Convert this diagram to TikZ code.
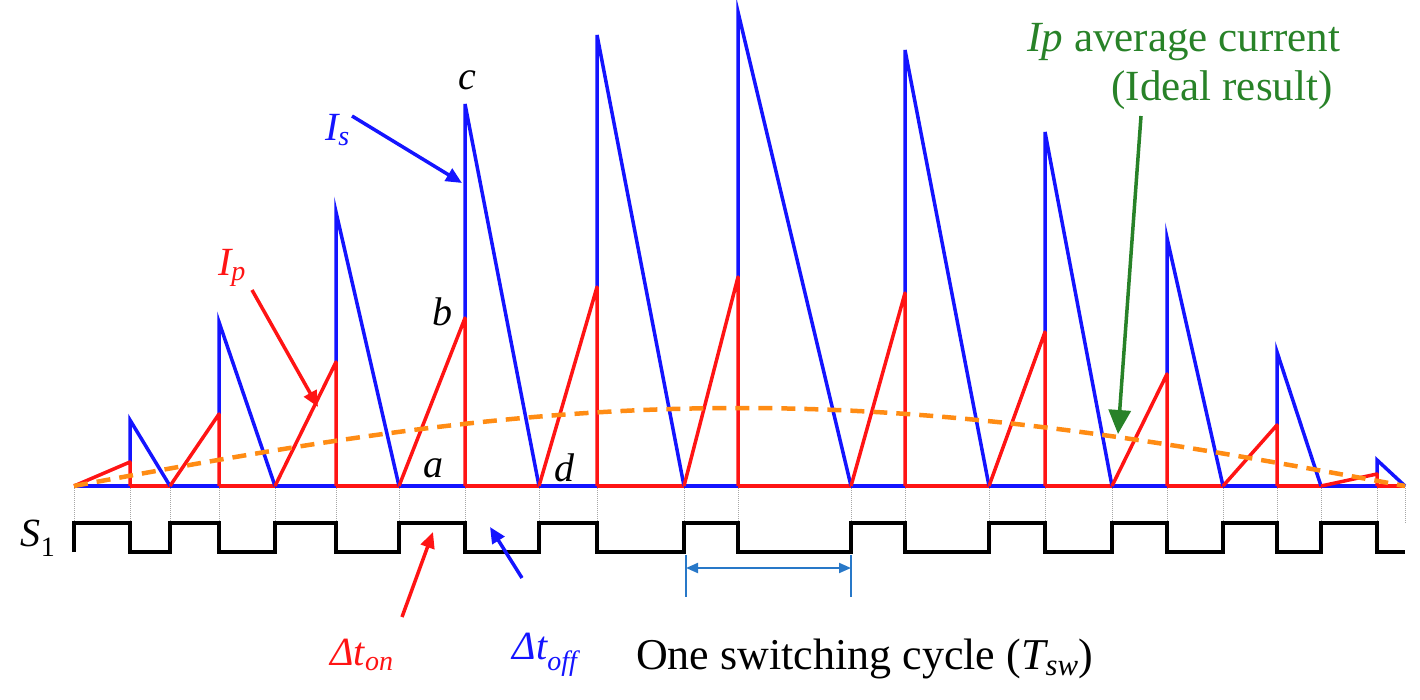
\documentclass[tikz,border=0pt]{standalone}
\usepackage{fontspec}
\setmainfont{Liberation Serif}
\usetikzlibrary{arrows.meta}
\definecolor{ipred}{RGB}{255,20,20}
\definecolor{isblue}{RGB}{20,20,255}
\definecolor{avgor}{RGB}{255,140,20}
\definecolor{grn}{RGB}{40,130,40}
\definecolor{cyc}{RGB}{40,120,200}
\tikzset{
  ipline/.style={ipred,line width=3.5pt},
  isline/.style={isblue,line width=3.5pt},
  guide/.style={gray!70,densely dotted,line width=1pt},
  sw/.style={black,line width=3.5pt,line join=miter},
  lbl/.style={font=\fontsize{40}{40}\selectfont\itshape,inner sep=0pt},
  ptr/.style={line width=3.5pt,-{Triangle[length=16pt,width=14pt]}},
}
\begin{document}
\begin{tikzpicture}[x=1pt,y=-1pt]
\useasboundingbox (0,0) rectangle (1420,700);
% cycles: on-start, on-end, off-end, Ip peak, Is peak
\foreach \a/\b/\c/\p/\s in {74/130/170/462/420,170/219/275/414/322,275/336/399/362/212,399/465/539/318/104,539/597/684/287/35,684/738/851/277/12,851/905/989/293/50,989/1045/1112/332/132,1112/1167/1223/374/238,1223/1277/1321/425/352,1321/1377/1405/474/460}{
  \coordinate (A) at (\a,486); \coordinate (B) at (\b,486); \coordinate (C) at (\c,486);
  \coordinate (P) at (\b,\p); \coordinate (S) at (\b,\s);
  \draw[guide] (\a,486) -- (\a,523);
  \draw[guide] (\b,486) -- (\b,552);
  \draw[guide] (\c,486) -- (\c,523);
  \draw[isline] (A) -- (B);
  \draw[ipline] (B) -- (C);
  \draw[isline] (P) -- (S) -- (C);
  \draw[ipline,line join=round] (A) -- (P) -- (B);
}
% S1 waveform
\draw[sw] (74,552) -- (74,523) -- (130,523) -- (130,552) -- (170,552) -- (170,523) -- (219,523) -- (219,552) -- (275,552) -- (275,523) -- (336,523) -- (336,552) -- (399,552) -- (399,523) -- (465,523) -- (465,552) -- (539,552) -- (539,523) -- (597,523) -- (597,552) -- (684,552) -- (684,523) -- (738,523) -- (738,552) -- (851,552) -- (851,523) -- (905,523) -- (905,552) -- (989,552) -- (989,523) -- (1045,523) -- (1045,552) -- (1112,552) -- (1112,523) -- (1167,523) -- (1167,552) -- (1223,552) -- (1223,523) -- (1277,523) -- (1277,552) -- (1321,552) -- (1321,523) -- (1377,523) -- (1377,552) -- (1405,552);
% average current
\draw[avgor,line width=4.5pt,dash pattern=on 14pt off 9pt] plot[domain=74:1405,samples=80,smooth] (\x,{486-78*sin((\x-74)/1331*180)});
% labels
\node[lbl] (lc) at (467,80) {c};
\node[lbl] (lb) at (442,312) {b};
\node[lbl] (la) at (433,468) {a};
\node[lbl] (ld) at (564,468) {d};
\node[lbl,isblue,anchor=east] (Is) at (350,130) {I\textsubscript{s}};
\coordinate (IsT) at (462,183);
\draw[ptr,isblue] (Is.east) ++(2,-14) -- (IsT);
\node[lbl,ipred] (Ip) at (232,268) {I\textsubscript{p}};
\coordinate (IpT) at (318,407);
\draw[ptr,ipred] (252,290) -- (IpT);
\node[font=\fontsize{40}{40}\selectfont\itshape,inner sep=0pt] (S1) at (38,538) {S\textsubscript{\upshape 1}};
\node[lbl,ipred] (ton) at (362,655) {Δt\textsubscript{on}};
\coordinate (tonT) at (433,532);
\draw[ptr,ipred] (402,617) -- (tonT);
\node[lbl,isblue] (toff) at (545,655) {Δt\textsubscript{off}};
\coordinate (toffT) at (490,527);
\draw[ptr,isblue] (522,578) -- (toffT);
% switching cycle
\coordinate (cy1) at (686,568); \coordinate (cy2) at (851,568);
\draw[cyc,line width=1.2pt] (686,555) -- (686,597);
\draw[cyc,line width=1.2pt] (851,555) -- (851,597);
\draw[cyc,line width=2pt,{Triangle[length=12pt,width=10pt]}-{Triangle[length=12pt,width=10pt]}] (cy1) -- (cy2);
\node[font=\fontsize{44}{44}\selectfont,inner sep=0pt,anchor=west] (one) at (636,659) {One switching cycle (\textit{T\textsubscript{sw}})};
\node[font=\fontsize{43}{43}\selectfont,grn,inner sep=0pt] (g1) at (1184,42) {\textit{Ip} average current};
\node[font=\fontsize{43}{43}\selectfont,grn,inner sep=0pt] (g2) at (1222,90) {(Ideal result)};
\coordinate (gT) at (1118,434);
\draw[grn,line width=3.5pt,-{Triangle[length=24pt,width=22pt]}] (1141,116) -- (gT);
\end{tikzpicture}
\end{document}
